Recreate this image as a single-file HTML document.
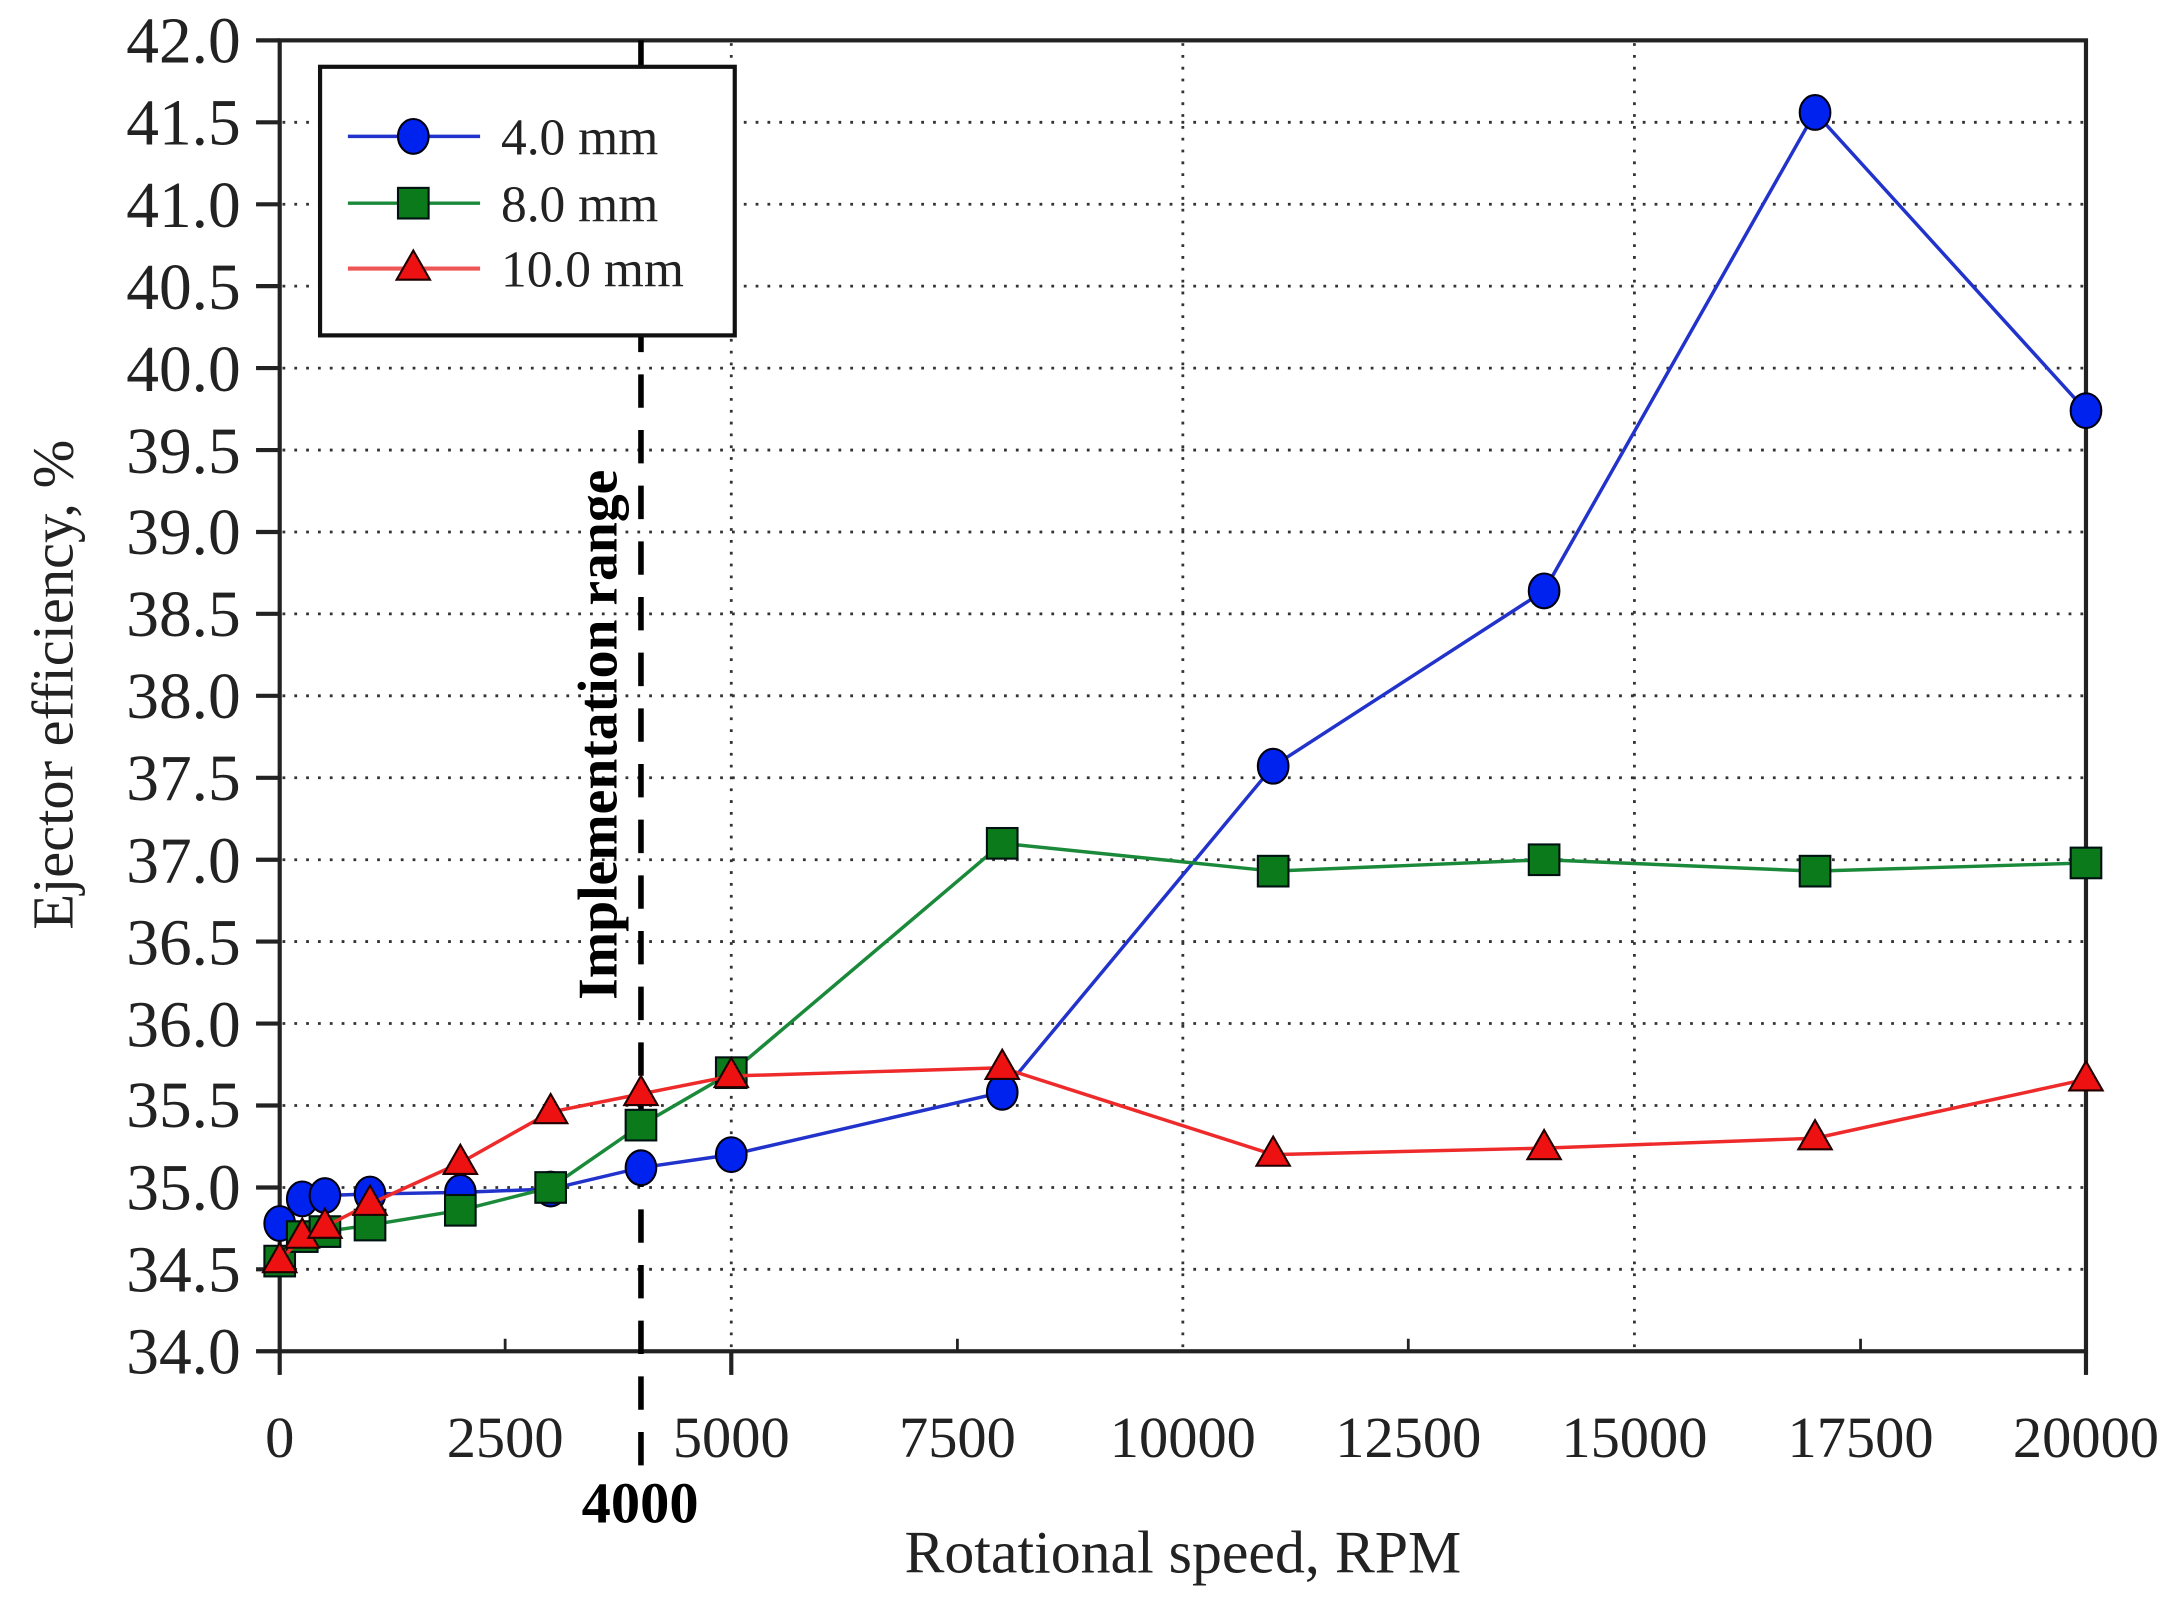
<!DOCTYPE html>
<html><head><meta charset="utf-8"><style>html,body{margin:0;padding:0;background:#fff}svg{display:block}</style></head>
<body>
<svg width="2182" height="1609" viewBox="0 0 1568 1156.2" preserveAspectRatio="none" xmlns="http://www.w3.org/2000/svg" font-family="Liberation Serif, serif">
<rect width="1568" height="1157" fill="#fff"/>
<g stroke="#333" stroke-width="2" stroke-dasharray="2 6.5">
<line x1="203" x2="1497" y1="87.9" y2="87.9"/><line x1="203" x2="1497" y1="146.8" y2="146.8"/><line x1="203" x2="1497" y1="205.6" y2="205.6"/><line x1="203" x2="1497" y1="264.5" y2="264.5"/><line x1="203" x2="1497" y1="323.4" y2="323.4"/><line x1="203" x2="1497" y1="382.3" y2="382.3"/><line x1="203" x2="1497" y1="441.1" y2="441.1"/><line x1="203" x2="1497" y1="500" y2="500"/><line x1="203" x2="1497" y1="558.9" y2="558.9"/><line x1="203" x2="1497" y1="617.8" y2="617.8"/><line x1="203" x2="1497" y1="676.6" y2="676.6"/><line x1="203" x2="1497" y1="735.5" y2="735.5"/><line x1="203" x2="1497" y1="794.4" y2="794.4"/><line x1="203" x2="1497" y1="853.3" y2="853.3"/><line x1="203" x2="1497" y1="912.1" y2="912.1"/>
<line x1="525.5" x2="525.5" y1="31" y2="969"/><line x1="850" x2="850" y1="31" y2="969"/><line x1="1174.5" x2="1174.5" y1="31" y2="969"/>
</g>
<rect x="201" y="29" width="1298" height="942" fill="none" stroke="#222" stroke-width="3"/>
<g stroke="#222" stroke-width="3">
<line x1="184" x2="201" y1="29" y2="29"/><line x1="184" x2="201" y1="87.9" y2="87.9"/><line x1="184" x2="201" y1="146.8" y2="146.8"/><line x1="184" x2="201" y1="205.6" y2="205.6"/><line x1="184" x2="201" y1="264.5" y2="264.5"/><line x1="184" x2="201" y1="323.4" y2="323.4"/><line x1="184" x2="201" y1="382.3" y2="382.3"/><line x1="184" x2="201" y1="441.1" y2="441.1"/><line x1="184" x2="201" y1="500" y2="500"/><line x1="184" x2="201" y1="558.9" y2="558.9"/><line x1="184" x2="201" y1="617.8" y2="617.8"/><line x1="184" x2="201" y1="676.6" y2="676.6"/><line x1="184" x2="201" y1="735.5" y2="735.5"/><line x1="184" x2="201" y1="794.4" y2="794.4"/><line x1="184" x2="201" y1="853.3" y2="853.3"/><line x1="184" x2="201" y1="912.1" y2="912.1"/><line x1="184" x2="201" y1="971" y2="971"/>
<line x1="201" x2="201" y1="971" y2="988"/><line x1="525.5" x2="525.5" y1="971" y2="988"/><line x1="1499" x2="1499" y1="971" y2="988"/>
</g>
<g stroke="#222" stroke-width="2">
<line x1="363" x2="363" y1="962" y2="971"/><line x1="688" x2="688" y1="962" y2="971"/><line x1="1012" x2="1012" y1="962" y2="971"/><line x1="1337" x2="1337" y1="962" y2="971"/>
</g>
<line x1="460.6" x2="460.6" y1="29" y2="1055" stroke="#000" stroke-width="4" stroke-dasharray="24 16"/>
<text transform="translate(443,528) rotate(-90)" text-anchor="middle" font-size="40" font-weight="bold">Implementation range</text>
<text x="460" y="1094" text-anchor="middle" font-size="42" font-weight="bold">4000</text>
<g font-size="47" text-anchor="end" fill="#222">
<text x="173" y="45">42.0</text><text x="173" y="104">41.5</text><text x="173" y="163">41.0</text><text x="173" y="222">40.5</text><text x="173" y="281">40.0</text><text x="173" y="340">39.5</text><text x="173" y="398">39.0</text><text x="173" y="457">38.5</text><text x="173" y="516">38.0</text><text x="173" y="575">37.5</text><text x="173" y="634">37.0</text><text x="173" y="693">36.5</text><text x="173" y="752">36.0</text><text x="173" y="810">35.5</text><text x="173" y="869">35.0</text><text x="173" y="928">34.5</text><text x="173" y="987">34.0</text>
</g>
<g font-size="42" text-anchor="middle" fill="#222">
<text x="201" y="1047">0</text><text x="363" y="1047">2500</text><text x="525.5" y="1047">5000</text><text x="688" y="1047">7500</text><text x="850" y="1047">10000</text><text x="1012" y="1047">12500</text><text x="1174.5" y="1047">15000</text><text x="1337" y="1047">17500</text><text x="1499" y="1047">20000</text>
</g>
<text x="850" y="1130" text-anchor="middle" font-size="43" fill="#222">Rotational speed, RPM</text>
<text transform="translate(52,492) rotate(-90)" text-anchor="middle" font-size="42" fill="#222">Ejector efficiency, %</text>
<polyline fill="none" stroke="#2233cc" stroke-width="2.5" points="201,879.2 217.2,861.5 233.5,859.1 265.9,858 330.8,856.8 395.7,854.4 460.6,839.1 525.5,829.7 720.2,784.9 914.9,550.6 1109.6,424.6 1304.3,80.8 1499,295.1"/>
<g fill="#0022ee" stroke="#001" stroke-width="1.5">
<ellipse cx="201" cy="879.2" rx="11" ry="12.5"/><ellipse cx="217.2" cy="861.5" rx="11" ry="12.5"/><ellipse cx="233.5" cy="859.1" rx="11" ry="12.5"/><ellipse cx="265.9" cy="858" rx="11" ry="12.5"/><ellipse cx="330.8" cy="856.8" rx="11" ry="12.5"/><ellipse cx="395.7" cy="854.4" rx="11" ry="12.5"/><ellipse cx="460.6" cy="839.1" rx="11" ry="12.5"/><ellipse cx="525.5" cy="829.7" rx="11" ry="12.5"/><ellipse cx="720.2" cy="784.9" rx="11" ry="12.5"/><ellipse cx="914.9" cy="550.6" rx="11" ry="12.5"/><ellipse cx="1109.6" cy="424.6" rx="11" ry="12.5"/><ellipse cx="1304.3" cy="80.8" rx="11" ry="12.5"/><ellipse cx="1499" cy="295.1" rx="11" ry="12.5"/>
</g>
<polyline fill="none" stroke="#1a8a3a" stroke-width="2.5" points="201,906.2 217.2,888.6 233.5,885 265.9,880.3 330.8,869.7 395.7,853.3 460.6,808.5 525.5,770.8 720.2,606 914.9,626 1109.6,617.8 1304.3,626 1499,620.1"/>
<g fill="#0a7a1a" stroke="#011" stroke-width="1.5">
<rect x="190" y="895.2" width="22" height="22"/><rect x="206.2" y="877.6" width="22" height="22"/><rect x="222.5" y="874" width="22" height="22"/><rect x="254.9" y="869.3" width="22" height="22"/><rect x="319.8" y="858.7" width="22" height="22"/><rect x="384.7" y="842.3" width="22" height="22"/><rect x="449.6" y="797.5" width="22" height="22"/><rect x="514.5" y="759.8" width="22" height="22"/><rect x="709.2" y="595" width="22" height="22"/><rect x="903.9" y="615" width="22" height="22"/><rect x="1098.6" y="606.8" width="22" height="22"/><rect x="1293.3" y="615" width="22" height="22"/><rect x="1488" y="609.1" width="22" height="22"/>
</g>
<polyline fill="none" stroke="#ee2a2a" stroke-width="2.5" points="201,906.2 217.2,888.6 233.5,881.5 265.9,865 330.8,835.6 395.7,799.1 460.6,786.1 525.5,773.2 720.2,767.3 914.9,829.7 1109.6,825 1304.3,817.9 1499,775.6"/>
<g fill="#ee1111" stroke="#200" stroke-width="1.5">
<path d="M201,893.2l12,21h-24z"/><path d="M217.2,875.6l12,21h-24z"/><path d="M233.5,868.5l12,21h-24z"/><path d="M265.9,852l12,21h-24z"/><path d="M330.8,822.6l12,21h-24z"/><path d="M395.7,786.1l12,21h-24z"/><path d="M460.6,773.1l12,21h-24z"/><path d="M525.5,760.2l12,21h-24z"/><path d="M720.2,754.3l12,21h-24z"/><path d="M914.9,816.7l12,21h-24z"/><path d="M1109.6,812l12,21h-24z"/><path d="M1304.3,804.9l12,21h-24z"/><path d="M1499,762.6l12,21h-24z"/>
</g>
<rect x="230" y="48" width="298" height="193" fill="#fff" stroke="#111" stroke-width="3"/>
<line x1="250" x2="345" y1="98" y2="98" stroke="#2233cc" stroke-width="2.5"/>
<ellipse cx="297" cy="98" rx="11" ry="12.5" fill="#0022ee" stroke="#001" stroke-width="1.5"/>
<line x1="250" x2="345" y1="146" y2="146" stroke="#1a8a3a" stroke-width="2.5"/>
<rect x="286" y="135" width="22" height="22" fill="#0a7a1a" stroke="#011" stroke-width="1.5"/>
<line x1="250" x2="345" y1="193" y2="193" stroke="#ee5555" stroke-width="3"/>
<path d="M297,180l12,21h-24z" fill="#ee1111" stroke="#200" stroke-width="1.5"/>
<g font-size="37" fill="#222">
<text x="360" y="111">4.0 mm</text><text x="360" y="159">8.0 mm</text><text x="360" y="206">10.0 mm</text>
</g>
</svg>
</body></html>
